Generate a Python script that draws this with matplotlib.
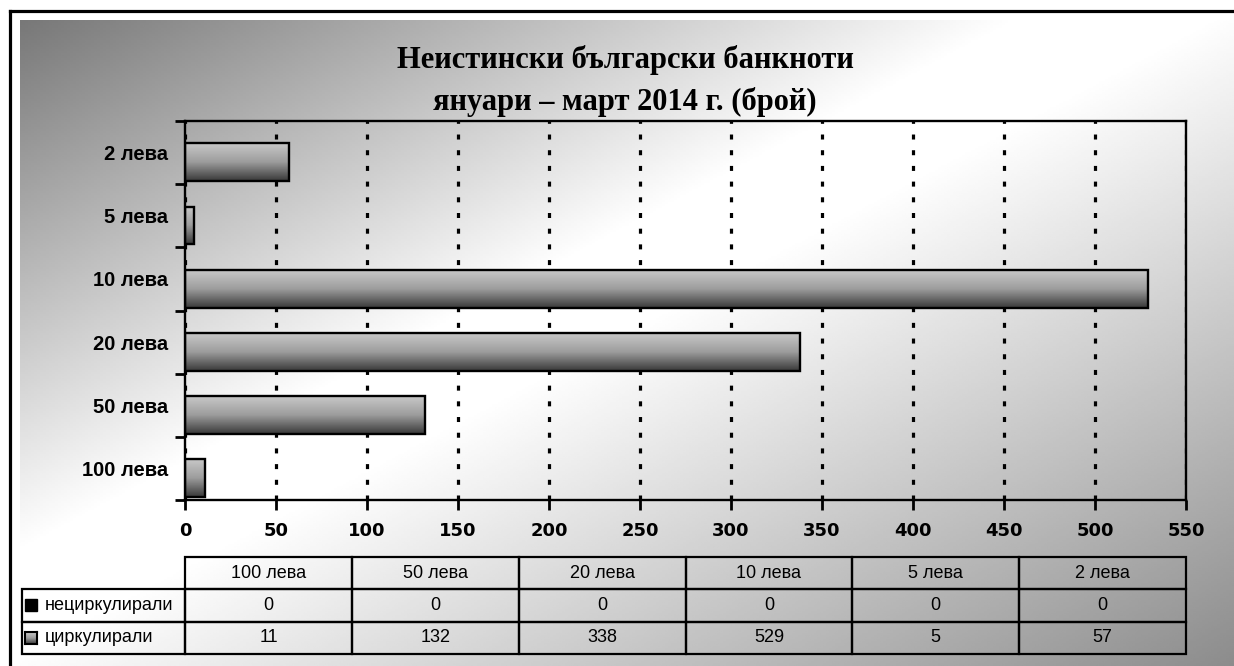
import numpy as np
import matplotlib.pyplot as plt
from matplotlib.colors import LinearSegmentedColormap
from matplotlib.patches import Rectangle
from matplotlib.lines import Line2D
from matplotlib.table import Table
from matplotlib.transforms import ScaledTranslation

# данни
categories = ['100 лева', '50 лева', '20 лева', '10 лева', '5 лева', '2 лева']
non_circulated = [0, 0, 0, 0, 0, 0]
circulated = [11, 132, 338, 529, 5, 57]
series_names = ['нециркулирали', 'циркулирали']
x_ticks = [0, 50, 100, 150, 200, 250, 300, 350, 400, 450, 500, 550]
title = 'Неистински български банкноти\nянуари – март 2014 г. (брой)'

W, H = 1234, 666
plt.rcParams['lines.scale_dashes'] = False
fig = plt.figure(figsize=(W / 100, H / 100), dpi=100)

# диагонален градиент на фона
bg = fig.add_axes([20 / W, 0, 1 - 20 / W, 1 - 20 / H], zorder=-10)
U, V = np.meshgrid(np.linspace(0, 1, 400), np.linspace(0, 1, 300))
s = U + V
d = np.maximum(np.abs(s - 0.9) - 0.08, 0)
val = np.where(s < 0.9, 1 - 0.53 * d / 0.82, 1 - 0.45 * d / 1.02)
bg.imshow(val, cmap='gray', vmin=0, vmax=1, aspect='auto', interpolation='bilinear')
bg.axis('off')

# рамка (само лява и горна линия)
fig.add_artist(Line2D([9.5 / W, 9.5 / W], [0, 1 - 10.5 / H], color='black', lw=2.3, transform=fig.transFigure))
fig.add_artist(Line2D([9.5 / W, 1], [1 - 10.5 / H, 1 - 10.5 / H], color='black', lw=2.3, transform=fig.transFigure))

ax = fig.add_axes([185 / W, (H - 500) / H, 1001 / W, 379 / H])
ax.set_facecolor('none')

bar_cmap = LinearSegmentedColormap.from_list('bar', ['#c8c8c8', '#9c9c9c', '#3a3a3a'])
grad = np.linspace(0, 1, 64).reshape(-1, 1)

y = np.arange(len(categories))
ax.barh(y + 0.155, non_circulated, height=0.6, color='black', linewidth=0, zorder=3)
bars = ax.barh(y - 0.155, circulated, height=0.6, facecolor='none', edgecolor='black', linewidth=1.7, zorder=3)
for b in bars:
    x0, y0 = b.get_x(), b.get_y()
    img = ax.imshow(grad, cmap=bar_cmap, aspect='auto', interpolation='bilinear',
                    extent=[x0, x0 + b.get_width(), y0, y0 + b.get_height()], zorder=2)
    img.set_clip_path(b)

ax.set_xlim(0, 550)
ax.set_ylim(-0.5, 5.5)
ax.set_xticks(x_ticks)
ax.set_yticks(y)
ax.set_yticklabels(categories, fontfamily='Liberation Sans', fontweight='bold', fontsize=14.5)
ax.set_yticks(np.arange(-0.5, 6, 1), minor=True)
shift = ScaledTranslation(5 / 100, 0, fig.dpi_scale_trans)
for lab in ax.get_xticklabels():
    lab.set_fontfamily('DejaVu Sans')
    lab.set_fontweight('bold')
    lab.set_fontsize(13)
    lab.set_transform(lab.get_transform() + shift)
ax.tick_params(axis='y', which='major', length=0, pad=12)
ax.tick_params(axis='y', which='minor', length=7, width=2, direction='out')
ax.tick_params(axis='x', length=7, width=2, direction='out', pad=9)
ax.set_axisbelow(True)
ax.grid(axis='x', color='black', linewidth=2.3, linestyle=(0, (3.6, 7.7)))
for sp in ax.spines.values():
    sp.set_linewidth(1.7)

fig.text(625 / W, 1 - 81 / H, title, ha='center', va='center', fontsize=22,
         fontfamily='Liberation Serif', fontweight='bold', linespacing=1.55)

# таблица с данни: колона 0 е за имената на редовете
label_w, col_w, row_h = 163, 166.8, 32
tbl = Table(ax, bbox=[(22 - 185) / 1001, (500 - 654) / 379, (1186 - 22) / 1001, (654 - 557) / 379])
corner = tbl.add_cell(0, 0, width=label_w, height=row_h, text='', facecolor='none')
corner.visible_edges = ''
for j, c in enumerate(categories):
    tbl.add_cell(0, j + 1, width=col_w, height=row_h, text=c, loc='center', facecolor='none', edgecolor='black')
for i, (name, vals) in enumerate(zip(series_names, [non_circulated, circulated])):
    cell = tbl.add_cell(i + 1, 0, width=label_w, height=row_h, text=name, loc='left',
                        facecolor='none', edgecolor='black')
    cell.PAD = (45 - 22) / label_w
    for j, v in enumerate(vals):
        tbl.add_cell(i + 1, j + 1, width=col_w, height=row_h, text=str(v), loc='center',
                     facecolor='none', edgecolor='black')
tbl.auto_set_font_size(False)
tbl.set_fontsize(13)
for cell in tbl.get_celld().values():
    cell.set_linewidth(1.6)
    cell.get_text().set_fontfamily('Liberation Sans')
ax.add_table(tbl)

# легендни ключове в таблицата
fig.add_artist(Rectangle((25 / W, 1 - 611 / H), 12 / W, 12 / H, facecolor='black',
                         edgecolor='black', lw=1, transform=fig.transFigure))
kax = fig.add_axes([25 / W, 1 - 644 / H, 12 / W, 12 / H])
kax.imshow(grad, cmap=bar_cmap, aspect='auto', interpolation='bilinear')
kax.set_xticks([])
kax.set_yticks([])
for sp in kax.spines.values():
    sp.set_linewidth(1.5)

fig.savefig('out.png', dpi=100)
